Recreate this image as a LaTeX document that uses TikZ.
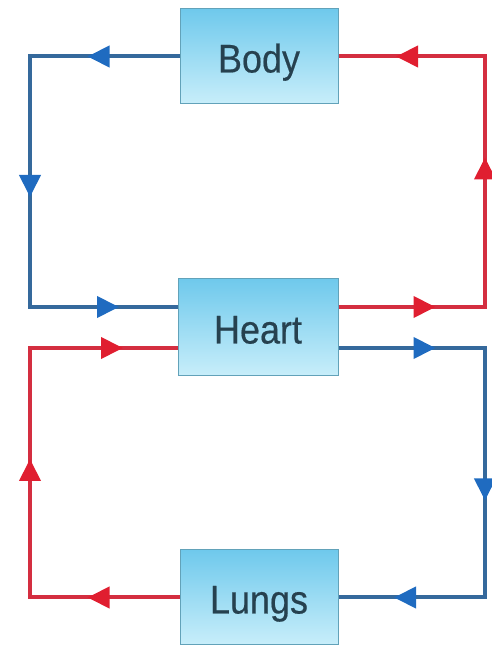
\documentclass[tikz,border=0pt]{standalone}
\usepackage{fontspec}
\setmainfont{Liberation Sans}[FakeStretch=0.9,FakeBold=0.4]
\usetikzlibrary{arrows.meta,decorations.markings,calc}
\definecolor{bluel}{HTML}{35699C}
\definecolor{bluea}{HTML}{1F6BC0}
\definecolor{redl}{HTML}{D42E40}
\definecolor{reda}{HTML}{E01E30}
\definecolor{boxtop}{HTML}{6FC9EC}
\definecolor{boxbot}{HTML}{C8EEFA}
\definecolor{boxedge}{HTML}{62A2B9}
\definecolor{txt}{HTML}{26414F}
\begin{document}
\begin{tikzpicture}[x=1pt,y=1pt,
  organ/.style={minimum width=158pt,minimum height=95pt,inner sep=0pt,
    top color=boxtop,bottom color=boxbot,draw=boxedge,line width=1pt,
    text=txt,font=\fontsize{40}{44}\selectfont,text height=32pt,text depth=0pt},
  flow/.style={line width=4pt,line join=miter},
  marks/.style n args={4}{decoration={markings,
    mark=at position #1 with {\arrow[#4]{Triangle[length=22pt,width=21pt]}},
    mark=at position #2 with {\arrow[#4]{Triangle[length=22pt,width=21pt]}},
    mark=at position #3 with {\arrow[#4]{Triangle[length=22pt,width=21pt]}}},postaction=decorate}]
\useasboundingbox (0,0) rectangle (492,648);
\node[organ] (body) at (259,591.5) {Body};
\node[organ,minimum width=160pt,minimum height=97pt] (heart) at (258,320.5) {Heart};
\node[organ] (lungs) at (259,50.5) {Lungs};
\coordinate (hlu) at ([yshift=20.5pt]heart.west);
\coordinate (hll) at ([yshift=-20.5pt]heart.west);
\coordinate (hru) at ([yshift=20.5pt]heart.east);
\coordinate (hrl) at ([yshift=-20.5pt]heart.east);
\coordinate (xl) at (30,0);
\coordinate (xr) at (485,0);
% Body -> Heart (blue, left upper loop)
\draw[flow,bluel,marks={92pt}{290pt}{489pt}{bluea}]
  (body.west) -- (body.west -| xl) -- (hlu -| xl) -- (hlu);
% Heart -> Body (red, right upper loop)
\draw[flow,redl,marks={97pt}{296pt}{486pt}{reda}]
  (hru) -- (hru -| xr) -- (body.east -| xr) -- (body.east);
% Lungs -> Heart (red, left lower loop)
\draw[flow,redl,marks={92pt}{288pt}{492pt}{reda}]
  (lungs.west) -- (lungs.west -| xl) -- (hll -| xl) -- (hll);
% Heart -> Lungs (blue, right lower loop)
\draw[flow,bluel,marks={97pt}{299pt}{487pt}{bluea}]
  (hrl) -- (hrl -| xr) -- (lungs.east -| xr) -- (lungs.east);
\end{tikzpicture}
\end{document}
